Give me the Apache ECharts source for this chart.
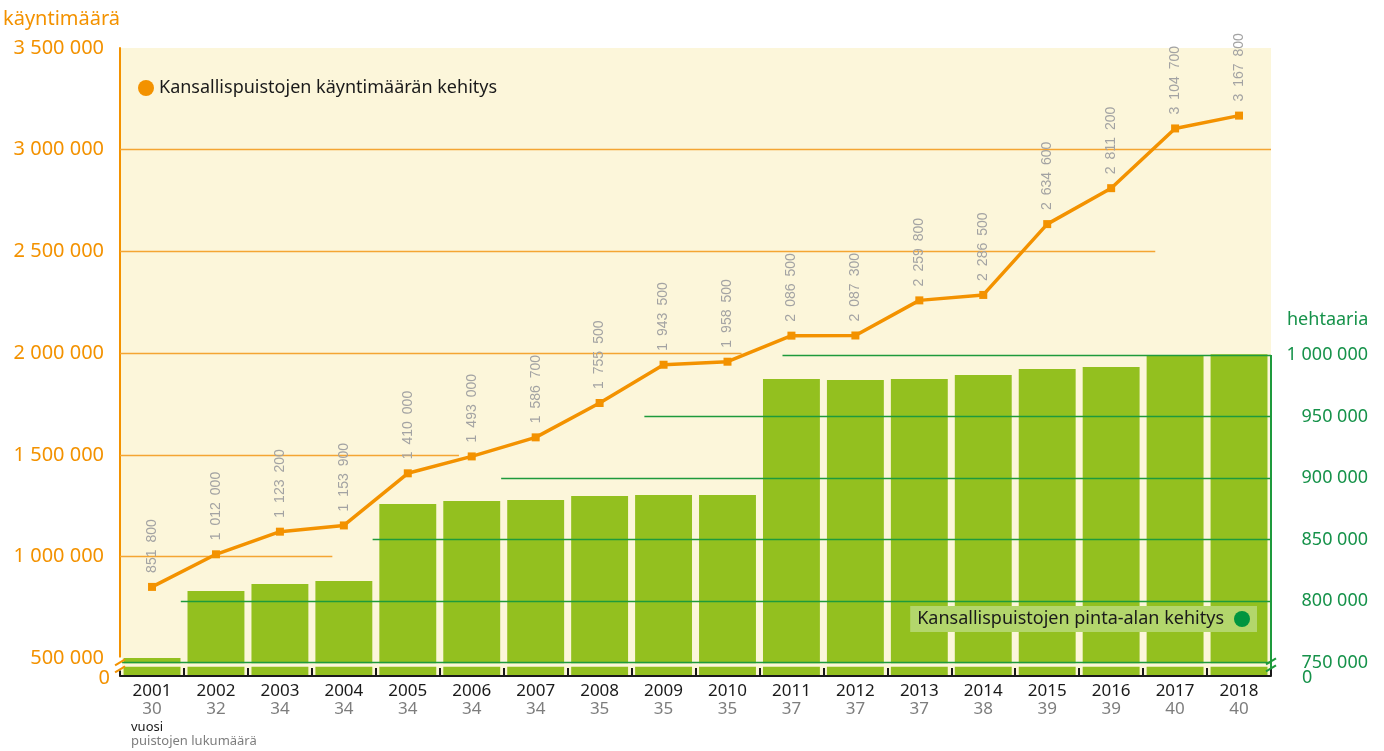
<!DOCTYPE html>
<html>
<head>
<meta charset="utf-8">
<title>Kansallispuistojen kehitys</title>
<script src="https://cdn.jsdelivr.net/npm/echarts@6/dist/echarts.min.js"></script>
<style>
  html, body { margin: 0; padding: 0; background: #fff; }
  #chart { width: 1384px; height: 751px; }
</style>
</head>
<body>
<div id="chart"></div>
<script>
// data
const years = ['2001', '2002', '2003', '2004', '2005', '2006', '2007', '2008', '2009',
    '2010', '2011', '2012', '2013', '2014', '2015', '2016', '2017', '2018'];
const parkCounts = [30, 32, 34, 34, 34, 34, 34, 35, 35, 35, 37, 37, 37, 38, 39, 39, 40, 40];
const visits = [851800, 1012000, 1123200, 1153900, 1410000, 1493000, 1586700, 1755500, 1943500,
    1958500, 2086500, 2087300, 2259800, 2286500, 2634600, 2811200, 3104700, 3167800];
const hectares = [753700, 808100, 813800, 816300, 878900, 881300, 882100, 885400, 886200,
    886200, 980500, 979700, 980500, 983700, 988600, 990200, 999200, 1000600];
const visitTicks = [500000, 1000000, 1500000, 2000000, 2500000, 3000000, 3500000];
const areaTicks = [750000, 800000, 850000, 900000, 950000, 1000000];

// layout
const ORANGE = '#F39200';
const ORANGE_GRID = '#F4A532';
const GREEN_BAR = '#93C01F';
const GREEN_LINE = '#1E9A3C';
const GREEN_TEXT = '#16924A';
const CREAM = '#FCF6DA';
const FONT = '"Noto Sans", sans-serif';
const LEFT_MIN = 414000;
const RIGHT_MIN = 739000;

// gridline spans along the axis, in category units (0..18)
const orangeSpans = [[1000000, 0, 3.32], [1500000, 0, 5.3], [2000000, 0, 9.72],
    [2500000, 0, 16.19], [3000000, 0, 18], [3500000, 0, 18.06]];
const greenSpans = [[750000, 0, 18], [800000, 0.95, 18], [850000, 3.95, 18],
    [900000, 5.96, 18], [950000, 8.2, 18], [1000000, 10.36, 18]];

const fmt = v => String(v).replace(/\B(?=(\d{3})+(?!\d))/g, ' ');

const chart = echarts.init(document.getElementById('chart'));

const spanLines = spans => spans.map(([v, a, b]) => [{ coord: [a, v] }, { coord: [b, v] }]);

const option = {
    animation: false,
    textStyle: { fontFamily: FONT },
    grid: {
        left: 117, right: 113, top: 48, bottom: 75,
        show: true, backgroundColor: CREAM, borderWidth: 0,
    },
    legend: [
        {
            left: 133, top: 74,
            icon: 'circle', itemWidth: 16, itemHeight: 16,
            textStyle: { fontSize: 18, color: '#1a1a1a', fontFamily: FONT },
            data: [{ name: 'Kansallispuistojen käyntimäärän kehitys', itemStyle: { color: ORANGE } }],
            selectedMode: false,
        },
        {
            right: 127, top: 606,
            align: 'right',
            icon: 'circle', itemWidth: 16, itemHeight: 16,
            padding: [4, 7, 4, 7],
            backgroundColor: '#B3D66C',
            textStyle: { fontSize: 18, color: '#1a1a1a', fontFamily: FONT, padding: [0, 5, 0, 0] },
            data: [{ name: 'Kansallispuistojen pinta-alan kehitys', itemStyle: { color: '#00953F' } }],
            selectedMode: false,
        },
    ],
    xAxis: [
        {
            type: 'category',
            data: years,
            axisLine: { lineStyle: { color: '#1a1a1a', width: 2 } },
            axisTick: { show: true, inside: true, length: 8, lineStyle: { color: '#1a1a1a', width: 2 } },
            axisLabel: {
                interval: 0,
                margin: 6,
                formatter: (v, i) => `{y|${v}}\n{c|${parkCounts[i]}}`,
                rich: {
                    y: { fontSize: 17, color: '#1a1a1a', lineHeight: 18, fontFamily: FONT },
                    c: { fontSize: 17, color: '#7d7d7d', lineHeight: 18, fontFamily: FONT },
                },
            },
            splitLine: { show: false },
            z: 6,
        },
        { type: 'value', min: 0, max: 18, show: false },
    ],
    yAxis: [
        {
            type: 'value',
            position: 'left',
            min: LEFT_MIN,
            max: 3500000,
            name: 'käyntimäärä',
            nameLocation: 'end',
            nameGap: 19,
            nameTextStyle: { color: ORANGE, fontSize: 20, align: 'right', fontFamily: FONT },
            axisLine: { show: true, lineStyle: { color: ORANGE, width: 2 } },
            axisTick: { show: false },
            splitLine: { show: false },
            axisLabel: {
                customValues: visitTicks,
                formatter: v => fmt(v),
                color: ORANGE, fontSize: 20, margin: 16, fontFamily: FONT,
            },
        },
        {
            type: 'value',
            position: 'right',
            min: RIGHT_MIN,
            max: 1249600,
            axisLine: { show: false },
            axisTick: { show: false },
            splitLine: { show: false },
            axisLabel: {
                customValues: areaTicks,
                formatter: v => fmt(v),
                align: 'right',
                margin: 97,
                color: GREEN_TEXT, fontSize: 18, fontFamily: FONT,
            },
        },
    ],
    series: [
        {
            name: 'Kansallispuistojen pinta-alan kehitys',
            type: 'bar',
            xAxisIndex: 0,
            yAxisIndex: 1,
            data: hectares,
            barCategoryGap: '11%',
            itemStyle: { color: GREEN_BAR },
            z: 2,
        },
        {
            name: 'green-grid',
            type: 'line',
            xAxisIndex: 1,
            yAxisIndex: 1,
            data: [],
            z: 3,
            markLine: {
                silent: true,
                symbol: ['none', 'none'],
                label: { show: false },
                lineStyle: { color: GREEN_LINE, width: 1.3, type: 'solid' },
                data: [
                    // break band across the bars
                    [{ coord: [0, 748100], lineStyle: { color: CREAM, width: 3.5 } }, { coord: [18, 748100] }],
                ].concat(spanLines(greenSpans), [
                    [{ coord: [18, 1000000], lineStyle: { width: 2 } }, { coord: [18, RIGHT_MIN] }],
                ]),
            },
        },
        {
            name: 'orange-grid',
            type: 'line',
            xAxisIndex: 1,
            yAxisIndex: 0,
            data: [],
            z: 1,
            markLine: {
                silent: true,
                symbol: ['none', 'none'],
                label: { show: false },
                lineStyle: { color: ORANGE_GRID, width: 1.3, type: 'solid' },
                data: spanLines(orangeSpans),
            },
        },
        {
            name: 'Kansallispuistojen käyntimäärän kehitys',
            type: 'line',
            xAxisIndex: 0,
            yAxisIndex: 0,
            data: visits,
            symbol: 'rect',
            symbolSize: 8,
            lineStyle: { color: ORANGE, width: 3.5 },
            itemStyle: { color: ORANGE },
            label: {
                show: true,
                position: 'top',
                rotate: 90,
                align: 'left',
                verticalAlign: 'middle',
                distance: 10,
                fontSize: 14,
                color: '#A3A3A3',
                fontFamily: '"Liberation Sans", Arial, sans-serif',
                formatter: p => fmt(p.value).replace(/ /g, '\u2002'),
            },
            z: 5,
        },
    ],
};

chart.setOption(option);

// axis break marks, zero labels and loose texts
const axisLeftX = chart.convertToPixel({ xAxisIndex: 1 }, 0);
const axisRightX = chart.convertToPixel({ xAxisIndex: 1 }, 18);
const breakY = chart.convertToPixel({ yAxisIndex: 1 }, 750000);
const zeroY = chart.convertToPixel({ yAxisIndex: 0 }, LEFT_MIN);
const slash = (x, y, color) => ({
    type: 'line',
    shape: { x1: x - 5, y1: y + 3, x2: x + 5, y2: y - 3 },
    style: { stroke: color, lineWidth: 2 },
    z: 10,
});

chart.setOption({
    graphic: [
        {
            type: 'rect',
            shape: { x: axisLeftX - 2, y: breakY - 5, width: 4, height: 13 },
            style: { fill: '#fff' },
            z: 9,
        },
        slash(axisLeftX, breakY, ORANGE),
        slash(axisLeftX, breakY + 7, ORANGE),
        slash(axisRightX, breakY - 1, GREEN_LINE),
        slash(axisRightX, breakY + 6, GREEN_LINE),
        {
            type: 'text', x: axisLeftX - 10, y: zeroY + 2,
            style: { text: '0', fill: ORANGE, font: `20px ${FONT}`, align: 'right', verticalAlign: 'middle' },
        },
        {
            type: 'text', x: axisRightX + 31, y: zeroY + 2,
            style: { text: '0', fill: GREEN_TEXT, font: `18px ${FONT}`, align: 'left', verticalAlign: 'middle' },
        },
        {
            type: 'text', left: 1287, top: 311,
            style: { text: 'hehtaaria', fill: GREEN_TEXT, font: `18px ${FONT}` },
        },
        {
            type: 'text', left: 131, top: 721,
            style: { text: 'vuosi', fill: '#1a1a1a', font: `13px ${FONT}` },
        },
        {
            type: 'text', left: 131, top: 735,
            style: { text: 'puistojen lukumäärä', fill: '#7d7d7d', font: `13px ${FONT}` },
        },
    ],
});
</script>
</body>
</html>
